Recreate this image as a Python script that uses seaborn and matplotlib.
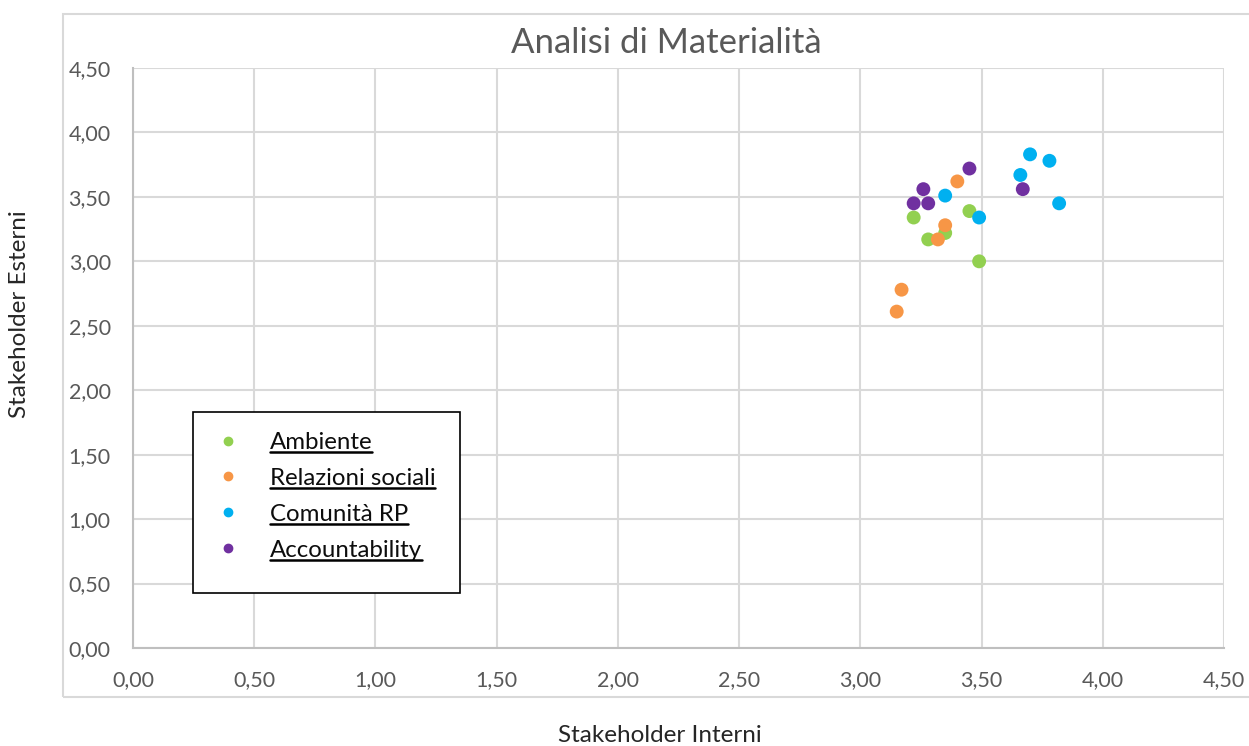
import pandas as pd
import seaborn as sns
import matplotlib.pyplot as plt
from matplotlib.lines import Line2D
from matplotlib.patches import Rectangle

# valori
ambiente_x = [3.22, 3.45, 3.35, 3.28, 3.49]
ambiente_y = [3.34, 3.39, 3.22, 3.17, 3.00]
relazioni_x = [3.40, 3.35, 3.32, 3.17, 3.15]
relazioni_y = [3.62, 3.28, 3.17, 2.78, 2.61]
comunita_x = [3.70, 3.78, 3.66, 3.35, 3.49, 3.82]
comunita_y = [3.83, 3.78, 3.67, 3.51, 3.34, 3.45]
account_x = [3.45, 3.26, 3.22, 3.28, 3.67]
account_y = [3.72, 3.56, 3.45, 3.45, 3.56]

categorie = ['Ambiente', 'Relazioni sociali', 'Comunità RP', 'Accountability']
colori = ['#92D050', '#F79646', '#00B0F0', '#7030A0']
tick_labels = ['0,00', '0,50', '1,00', '1,50', '2,00', '2,50', '3,00', '3,50', '4,00', '4,50']

serie = [(ambiente_x, ambiente_y), (relazioni_x, relazioni_y),
         (comunita_x, comunita_y), (account_x, account_y)]
righe = []
for nome, (xs, ys) in zip(categorie, serie):
    for x, y in zip(xs, ys):
        righe.append({'interni': x, 'esterni': y, 'gruppo': nome})
df = pd.DataFrame(righe)

sns.set_style('white')
plt.rcParams['font.family'] = ['Lato', 'DejaVu Sans']

fig = plt.figure(figsize=(12.49, 7.46), dpi=100)
ax = fig.add_axes([133 / 1249, 1 - 648 / 746, 1091 / 1249, 580 / 746])

# cornice esterna del grafico
fig.patches.append(Rectangle((63 / 1249, 1 - 697 / 746), 1.0, 683 / 746,
                             transform=fig.transFigure, fill=False,
                             edgecolor='#D9D9D9', linewidth=1.5))

sns.scatterplot(data=df, x='interni', y='esterni', hue='gruppo',
                palette=dict(zip(categorie, colori)), s=100, linewidth=0,
                legend=False, ax=ax, zorder=3)

ticks = [i * 0.5 for i in range(10)]
ax.set_xlim(0, 4.5)
ax.set_ylim(0, 4.5)
ax.set_xticks(ticks)
ax.set_yticks(ticks)
ax.set_xticklabels(tick_labels)
ax.set_yticklabels(tick_labels)
ax.tick_params(labelsize=15.5, colors='#595959', length=0)
ax.tick_params(axis='x', pad=16)
ax.tick_params(axis='y', pad=16)
ax.grid(True, color='#D9D9D9', linewidth=1.5)
for side in ['top', 'right']:
    ax.spines[side].set_visible(False)
for side in ['left', 'bottom']:
    ax.spines[side].set_color('#BFBFBF')
    ax.spines[side].set_linewidth(1.5)
ax.set_xlabel('')
ax.set_ylabel('')

fig.text(666 / 1249, 1 - 43 / 746, 'Analisi di Materialità', fontsize=25,
         color='#595959', ha='center', va='center')
fig.text(660 / 1249, 1 - 736 / 746, 'Stakeholder Interni', fontsize=17.5,
         color='#262626', ha='center', va='center')
fig.text(20 / 1249, 1 - 314 / 746, 'Stakeholder Esterni', fontsize=17.5,
         color='#262626', ha='center', va='center', rotation=90)

# legenda
ax.add_patch(Rectangle((60 / 1091, 55 / 580), 267 / 1091, 181 / 580,
                       transform=ax.transAxes, facecolor='white',
                       edgecolor='black', linewidth=1.2, zorder=5))
handles = [Line2D([], [], marker='o', linestyle='', color=c, markersize=6)
           for c in colori]
leg = ax.legend(handles, categorie, loc='upper left',
                bbox_to_anchor=(84 / 1091, 216 / 580), frameon=False,
                fontsize=17.3, handlelength=0.9, handletextpad=1.3,
                labelspacing=0.62, borderpad=0, borderaxespad=0)
leg.set_zorder(6)
for t in leg.get_texts():
    t.set_color('#0D0D0D')

# sottolineatura delle voci di legenda
fig.canvas.draw()
renderer = fig.canvas.get_renderer()
for t in leg.get_texts():
    bb = t.get_window_extent(renderer)
    y = bb.y0 + 1
    fig.add_artist(Line2D([bb.x0 / 1249, bb.x1 / 1249], [y / 746, y / 746],
                          transform=fig.transFigure, color='black',
                          linewidth=1.8, zorder=10))

fig.savefig('out.png', dpi=100)
